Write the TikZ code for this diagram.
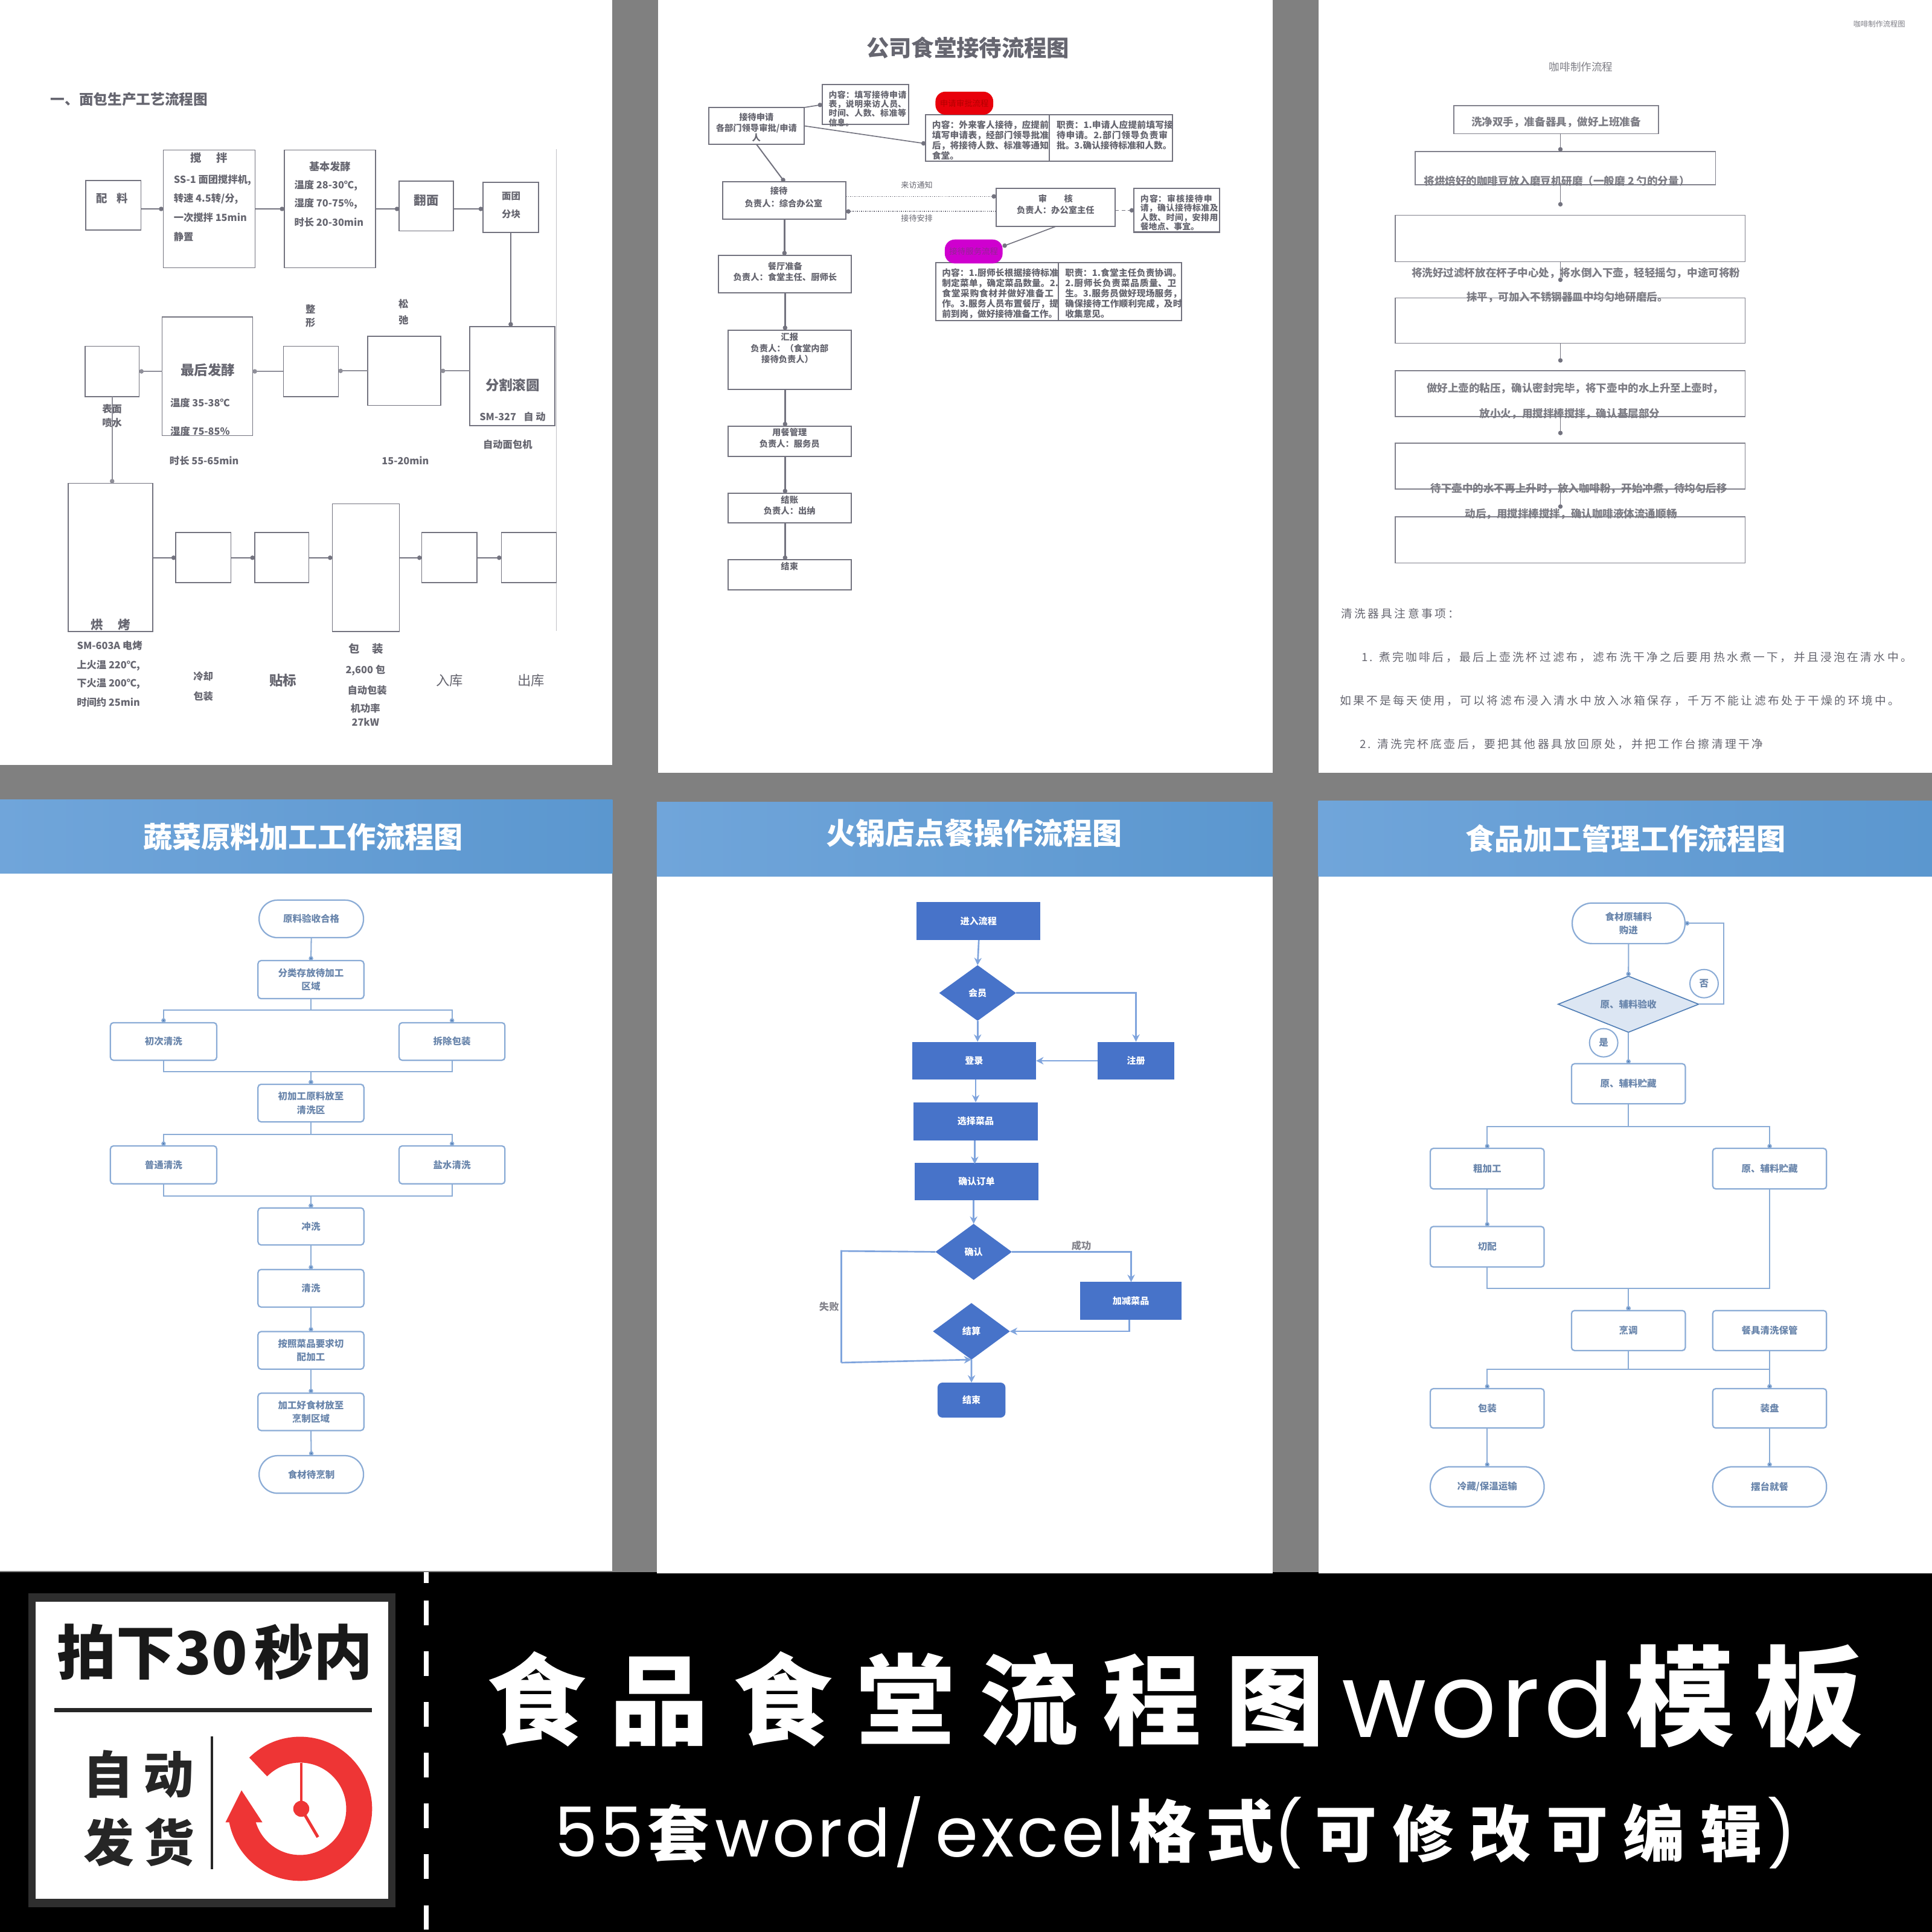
\documentclass[tikz,border=0pt]{standalone}
\usepackage{fontspec}
\setmainfont{Noto Sans CJK SC}
\XeTeXlinebreaklocale "zh"
\XeTeXlinebreakskip=0pt plus 1pt
\newfontfamily\poppins{Poppins}
\newfontfamily\poppinsw[LetterSpace=4]{Poppins}
\newfontfamily\cjktitle[LetterSpace=25]{Noto Sans CJK SC}
\newfontfamily\cjktitleb[LetterSpace=18]{Noto Sans CJK SC}
\newfontfamily\cjksub[LetterSpace=14]{Noto Sans CJK SC}
\newfontfamily\cjknote[LetterSpace=18]{Noto Sans CJK SC}
\usetikzlibrary{arrows.meta,shapes.geometric}
\definecolor{pagegray}{HTML}{808080}
\definecolor{bandL}{HTML}{70A5DA}
\definecolor{bandR}{HTML}{5B97CF}
\definecolor{lineA}{HTML}{73737F}
\definecolor{textA}{HTML}{666670}
\definecolor{lineD}{HTML}{8BACD6}
\definecolor{tipD}{HTML}{4F7DB5}
\definecolor{textD}{HTML}{6A86AC}
\definecolor{fillE}{HTML}{4773C9}
\definecolor{lineE}{HTML}{7FA4DD}
\definecolor{clockred}{HTML}{EE3535}
\definecolor{pillred}{HTML}{E8000B}
\definecolor{pillmag}{HTML}{CF00CF}
\newcommand{\fs}[1]{\fontsize{#1}{#1}\selectfont}
\newcommand{\bx}[7][]{\node[bxbase,#1,minimum width={(#5-#3)*1pt},minimum height={(#6-#4)*1pt}] (#2) at ({(#3+#5)/2},{(#4+#6)/2}) {#7};}
\newcommand{\tx}[5][]{\node[txbase,#1] (#2) at (#3,#4) {#5};}
\tikzset{
 bxbase/.style={inner sep=0pt,outer sep=0pt,rectangle,align=center},
 txbase/.style={inner sep=0pt,outer sep=0pt,align=center},
 boxA/.style={draw=lineA,line width=.8pt,fill=white},
 tA/.style={text=textA,font=\fs{8}\bfseries},
 tAb/.style={text=textA,font=\fs{11}\bfseries},
 conA/.style={draw=lineA,line width=.8pt,-{Circle[length=3.6pt]}},
 conAg/.style={draw=lineA!80,line width=1.1pt,-{Circle[length=3.6pt]}},
 boxB/.style={draw=lineA,line width=1pt,fill=white},
 tB/.style={text=textA,font=\fs{7}\bfseries},
 blockB/.style={text=textA,font=\fontsize{7.2}{8.3}\selectfont\bfseries,align=left,anchor=north west},
 blockS/.style={blockB,font=\fontsize{6.8}{7.5}\selectfont\bfseries},
 boxC/.style={draw=lineA!90,line width=.8pt,fill=white},
 tC/.style={text=textA!85,font=\fs{8.6}\bfseries},
 tN/.style={text=textA,font=\fs{9.2}\cjknote,anchor=west},
 boxD/.style={draw=lineD,line width=1.1pt,fill=white,rounded corners=2.5pt,text=textD,font=\fontsize{7.6}{11}\selectfont\bfseries},
 pillD/.style={boxD,rounded corners=15pt},
 conD/.style={draw=lineD,line width=1pt,-{Circle[length=3.6pt,fill=tipD]}},
 band/.style={left color=bandL,right color=bandR},
 bandT/.style={text=white,font=\fs{23.6}\bfseries},
 boxE/.style={fill=fillE,text=white,font=\fs{7.4}\bfseries},
 diaE/.style={diamond,inner sep=0pt,outer sep=0pt,fill=fillE,text=white,font=\fs{7.4}\bfseries,shape aspect=1.37},
 conE/.style={draw=lineE,line width=1.3pt,-{Stealth[length=6pt,width=6pt]}},
 circF/.style={circle,draw=lineD,line width=1pt,minimum size=23pt,inner sep=0pt,text=textD,font=\fs{7.6}\bfseries,fill=white},
}
\begin{document}
\begin{tikzpicture}[x=1pt,y=-1pt]
\useasboundingbox (0,0) rectangle (1568,1568);
\fill[pagegray] (0,0) rectangle (1568,1276);
\fill[black] (0,1276) rectangle (1568,1568);
% pages
\fill[white] (0,0) rectangle (497,621);
\fill[white] (534,0) rectangle (1033,627);
\fill[white] (1070,0) rectangle (1568,627);
\fill[white] (0,649) rectangle (497,1275);
\fill[white] (533,651) rectangle (1033,1277);
\fill[white] (1070,650) rectangle (1568,1277);

% ---------- Page A
\tx[text=textA,font=\fs{11.6}\bfseries,anchor=west]{atitle}{41}{80.5}{一、面包生产工艺流程图}
\draw[lineA!45,line width=.6pt] (451.5,121) -- (451.5,512);
\bx[boxA]{a1}{69.6}{146.4}{114.5}{186.7}{}
\bx[boxA]{a2}{132.6}{121.8}{207}{217.3}{}
\bx[boxA]{a3}{230.7}{121.8}{304.8}{217.3}{}
\bx[boxA]{a4}{324}{147}{368}{187.5}{}
\bx[boxA]{a5}{392}{148}{437}{188.7}{}
\bx[boxA]{a6}{381.3}{265}{450.2}{345.6}{}
\bx[boxA]{a7}{298.3}{273}{357.7}{329}{}
\bx[boxA]{a8}{230}{281}{274.6}{321.8}{}
\bx[boxA]{a9}{131.6}{257.3}{205}{353.6}{}
\bx[boxA]{a10}{69}{281}{113}{321.8}{}
\bx[boxA]{a11}{55.5}{392.3}{124}{512.5}{}
\bx[boxA]{a12}{142.7}{432.3}{187.4}{473}{}
\bx[boxA]{a13}{206.7}{432.3}{250.7}{473}{}
\bx[boxA]{a14}{269.7}{408.9}{324.2}{512.5}{}
\bx[boxA]{a15}{342.2}{432.3}{387.2}{473}{}
\bx[boxA]{a16}{406.9}{432.3}{451.5}{473}{}
\draw[conA] (a1.east |- a2.west) -- (a2.west);
\draw[conA] (a2.east) -- (a3.west);
\draw[conA] (a3.east) -- (a3.east -| a4.west);
\draw[conA] (a4.east |- a3.east) -- (a3.east -| a5.west);
\draw[conA,line width=1.1pt] (a5.south) -- (a5.south |- a6.north);
\draw[conAg] (a6.west |- a7.east) -- (a7.east);
\draw[conAg] (a7.west) -- (a7.west -| a8.east);
\draw[conAg] (a8.west) -- (a8.west -| a9.east);
\draw[conAg] (a9.west |- a10.east) -- (a10.east);
\draw[conAg] (a10.south) -- (a10.south |- a11.north);
\draw[conA] (a11.east |- a12.west) -- (a12.west);
\draw[conA] (a12.east) -- (a13.west);
\draw[conA] (a13.east) -- (a13.east -| a14.west);
\draw[conA] (a14.east |- a15.west) -- (a15.west);
\draw[conA] (a15.east) -- (a16.west);
\tx[tA,font=\fs{9}\bfseries]{at1}{91}{161}{配\hspace{8pt}料}
\tx[tA,font=\fs{9}\bfseries]{at2}{169.6}{128}{搅\hspace{12pt}拌}
\tx[tA,anchor=west]{at3}{141}{146.4}{SS-1 面团搅拌机,}
\tx[tA,anchor=west]{at4}{141}{161.3}{转速 4.5转/分,}
\tx[tA,anchor=west]{at5}{141}{176.6}{一次搅拌 15min}
\tx[tA,anchor=west]{at6}{141}{192}{静置}
\tx[tA,font=\fs{8.4}\bfseries]{at7}{267.7}{135}{基本发酵}
\tx[tA,anchor=west]{at8}{238.9}{150.4}{温度 28-30℃,}
\tx[tA,anchor=west]{at9}{238.9}{165.3}{湿度 70-75\%,}
\tx[tA,anchor=west]{at10}{238.9}{180.6}{时长 20-30min}
\tx[tA,font=\fs{10}\bfseries]{at11}{346}{162.5}{翻面}
\tx[tA,font=\fs{7.6}\bfseries]{at12}{414.8}{159}{面团}
\tx[tA,font=\fs{7.6}\bfseries]{at13}{414.8}{174}{分块}
\tx[tAb]{at14}{416}{312.5}{分割滚圆}
\tx[tA]{at15}{416}{338}{SM-327\hspace{6pt}自 动}
\tx[tA]{at16}{412}{361}{自动面包机}
\tx[tA]{at17}{327.5}{246.8}{松}
\tx[tA]{at18}{327.5}{260}{弛}
\tx[tA]{at19}{329}{374}{15-20min}
\tx[tA]{at20}{252}{251}{整}
\tx[tA]{at21}{252}{262}{形}
\tx[tAb]{at22}{168.7}{300.4}{最后发酵}
\tx[tA]{at23}{162.4}{327}{温度 35-38℃}
\tx[tA]{at24}{162.4}{350}{湿度 75-85\%}
\tx[tA]{at25}{165.7}{374}{时长 55-65min}
\tx[tA]{at26}{91}{332}{表面}
\tx[tA]{at27}{91}{343}{喷水}
\tx[tA,font=\fs{10}\bfseries]{at28}{89.6}{506.9}{烘\hspace{12pt}烤}
\tx[tA]{at29}{89}{524}{SM-603A 电烤}
\tx[tA]{at30}{88}{540}{上火温 220℃,}
\tx[tA]{at31}{88}{555}{下火温 200℃,}
\tx[tA]{at32}{88}{570}{时间约 25min}
\tx[tA]{at33}{165}{549}{冷却}
\tx[tA]{at34}{165}{565}{包装}
\tx[tAb]{at35}{229.7}{552.4}{贴标}
\tx[tA,font=\fs{9}\bfseries]{at36}{297}{526.6}{包\hspace{10pt}装}
\tx[tA]{at37}{296.6}{544}{2,600 包}
\tx[tA]{at38}{298}{560}{自动包装}
\tx[tA]{at39}{296.6}{575}{机功率}
\tx[tA]{at40}{296.6}{586}{27kW}
\tx[tAb,font=\fs{11}]{at41}{365}{552}{入库}
\tx[tAb,font=\fs{11}]{at42}{431}{552}{出库}

% ---------- Page B
\tx[text=textA,font=\fs{18.3}\bfseries]{btitle}{785.5}{39}{公司食堂接待流程图}
\bx[boxB]{b1}{575.1}{87.2}{652.9}{117.2}{}
\bx[boxB]{b1n}{667.3}{68.8}{737.6}{101}{}
\bx[boxB]{b2l}{751.3}{93.1}{851.4}{130.6}{}
\bx[boxB]{b2r}{851.4}{93.1}{951.5}{130.6}{}
\bx[boxB]{b3}{586.6}{147.5}{686.7}{177.8}{}
\bx[boxB]{b4}{808.4}{153}{905.2}{183.8}{}
\bx[boxB]{b4n}{920.3}{153}{989.9}{188.4}{}
\bx[boxB]{b5l}{759.5}{213}{859}{260.3}{}
\bx[boxB]{b5r}{859}{213}{959}{260.3}{}
\bx[boxB]{b6}{583.3}{207.2}{691}{237.8}{}
\bx[boxB]{b7}{590.9}{267.8}{691}{316}{}
\bx[boxB]{b8}{590.9}{346}{691}{370.3}{}
\bx[boxB]{b9}{590.9}{400.3}{691}{424.4}{}
\bx[boxB]{b10}{590.9}{454.4}{691}{478.8}{}
\bx[fill=pillred,rounded corners=8pt,text=red!70!black,font=\fs{6.6}]{pillr}{759.2}{74.4}{806.1}{93.1}{申请审批流程}
\bx[fill=pillmag,rounded corners=8pt,text=violet!85,font=\fs{6.6}]{pillm}{766.8}{194.4}{813.7}{213.8}{接待服务流程}
\draw[conA] (b1.north east) -- (b1n.west);
\draw[conA] (b1.east) -- (b2l.west |- 751.3,116.6);
\draw[conA,line width=1pt] (b1.south) -- (b3.north);
\draw[conA,line width=.7pt,densely dotted] (b3.east |- 0,159.4) -- (b4.west |- 0,159.4);
\draw[conA,line width=.7pt,densely dotted] (b4.west |- 0,171.6) -- (b3.east |- 0,171.6);
\draw[conA,densely dashed] (b4.east |- b4n.west) -- (b4n.west);
\draw[conA] (b4.south) -- (pillm.east |- 0,200);
\draw[conA,line width=1.2pt] (b3.south) -- (b3.south |- b6.north);
\draw[conA,line width=1.2pt] (b6.south) -- (b6.south |- b7.north);
\draw[conA,line width=1.2pt] (b6.south |- b7.south) -- (b6.south |- b8.north);
\draw[conA,line width=1.2pt] (b6.south |- b8.south) -- (b6.south |- b9.north);
\draw[conA,line width=1.2pt] (b6.south |- b9.south) -- (b6.south |- b10.north);
\tx[tB]{bt1}{613.9}{95.3}{接待申请}
\tx[tB]{bt2}{613.9}{104.4}{各部门领导审批/申请}
\tx[tB]{bt3}{613.9}{111.6}{人}
\tx[tB]{bt4}{632.2}{155}{接待}
\tx[tB]{bt5}{636}{165}{负责人：综合办公室}
\tx[tB]{bt6}{856.7}{161.3}{审\hspace{14pt}核}
\tx[tB]{bt7}{856.7}{170.6}{负责人：办公室主任}
\tx[tB,font=\fs{6.4}]{bt8}{744.1}{150.3}{来访通知}
\tx[tB,font=\fs{6.4}]{bt9}{744.1}{177.2}{接待安排}
\tx[tB]{bt10}{637.2}{216.3}{餐厅准备}
\tx[tB]{bt11}{637.2}{224.7}{负责人：食堂主任、厨师长}
\tx[tB]{bt12}{640.8}{273.4}{汇报}
\tx[tB]{bt13}{640.8}{282.8}{负责人：（食堂内部}
\tx[tB]{bt14}{639}{291.6}{接待负责人）}
\tx[tB]{bt15}{640.8}{351}{用餐管理}
\tx[tB]{bt16}{640.8}{360}{负责人：服务员}
\tx[tB]{bt17}{640.8}{405.6}{结账}
\tx[tB]{bt18}{640.8}{414.4}{负责人：出纳}
\tx[tB]{bt19}{640.8}{459.7}{结束}
\node[blockS,text width=67pt] (bn1) at (669,70) {内容：填写接待申请表，说明来访人员、时间、人数、标准等信息。};
\node[blockB,text width=96pt] (bn2) at (753,94.5) {内容：外来客人接待，应提前填写申请表，经部门领导批准后，将接待人数、标准等通知食堂。};
\node[blockB,text width=96pt] (bn3) at (854,94.5) {职责：1.申请人应提前填写接待申请。2.部门领导负责审批。3.确认接待标准和人数。};
\node[blockS,text width=67pt] (bn4) at (922,154.5) {内容：审核接待申请，确认接待标准及人数、时间，安排用餐地点、事宜。};
\node[blockB,text width=96pt] (bn5) at (761,214.5) {内容：1.厨师长根据接待标准制定菜单，确定菜品数量。2.食堂采购食材并做好准备工作。3.服务人员布置餐厅，提前到岗，做好接待准备工作。};
\node[blockB,text width=96pt] (bn6) at (861,214.5) {职责：1.食堂主任负责协调。2.厨师长负责菜品质量、卫生。3.服务员做好现场服务，确保接待工作顺利完成，及时收集意见。};

% ---------- Page C
\tx[tC,font=\fs{6}]{ct0}{1525.2}{19.4}{咖啡制作流程图}
\tx[tC,font=\fs{8.6}]{ct1}{1283.1}{54.4}{咖啡制作流程}
\bx[boxC]{c1}{1179.8}{85.9}{1346}{108.5}{}
\bx[boxC]{c2}{1148.6}{123}{1392.3}{150}{}
\bx[boxC]{c3}{1132.5}{174.6}{1416.4}{212.5}{}
\bx[boxC]{c4}{1132.5}{241.9}{1416.4}{278.6}{}
\bx[boxC]{c5}{1132.5}{300.8}{1416.4}{338}{}
\bx[boxC]{c6}{1132.5}{359.7}{1416.4}{396.8}{}
\bx[boxC]{c7}{1132.5}{419.4}{1416.4}{456.9}{}
\coordinate (cx) at (1266.4,0);
\draw[conA] (cx |- c1.south) -- (cx |- c2.north);
\draw[conA,shorten >=7pt] (cx |- c2.south) -- (cx |- c3.north);
\draw[conA,shorten >=13pt] (cx |- c3.south) -- (cx |- c4.north);
\draw[conA,shorten >=6.5pt] (cx |- c4.south) -- (cx |- c5.north);
\draw[conA,shorten >=6.5pt] (cx |- c5.south) -- (cx |- c6.north);
\draw[conA,shorten >=6.5pt] (cx |- c6.south) -- (cx |- c7.north);
\tx[tC]{cp1}{1263}{99}{洗净双手，准备器具，做好上班准备}
\tx[tC]{cp2}{1263.5}{146.8}{将烘焙好的咖啡豆放入磨豆机研磨（一般磨 2 勺的分量）}
\tx[tC]{cp3}{1279}{221.4}{将洗好过滤杯放在杯子中心处，将水倒入下壶，轻轻摇匀，中途可将粉}
\tx[tC]{cp4}{1272}{241}{抹平，可加入不锈钢器皿中均匀地研磨后。}
\tx[tC]{cp5}{1278.3}{315.3}{做好上壶的粘压，确认密封完毕，将下壶中的水上升至上壶时，}
\tx[tC]{cp6}{1274}{336}{放小火，用搅拌棒搅拌，确认基层部分}
\tx[tC]{cp7}{1281.5}{396.8}{待下壶中的水不再上升时，放入咖啡粉，开始冲煮，待均匀后移}
\tx[tC]{cp8}{1275}{417}{动后，用搅拌棒搅拌，确认咖啡液体流通顺畅}
\tx[tN]{cn1}{1088.4}{498}{清洗器具注意事项：}
\tx[tN]{cn2}{1105}{533.5}{1. 煮完咖啡后，最后上壶洗杯过滤布，滤布洗干净之后要用热水煮一下，并且浸泡在清水中。}
\tx[tN]{cn3}{1087.4}{568.5}{如果不是每天使用，可以将滤布浸入清水中放入冰箱保存，千万不能让滤布处于干燥的环境中。}
\tx[tN]{cn4}{1103.5}{604}{2. 清洗完杯底壶后，要把其他器具放回原处，并把工作台擦清理干净}

% ---------- Page D
\bx[band]{dband}{0}{649}{497}{709}{}
\tx[bandT]{dtitle}{246}{679.3}{蔬菜原料加工工作流程图}
\bx[pillD]{d1}{210.3}{730.5}{295}{761}{原料验收合格}
\bx[boxD]{d2}{209.4}{779.6}{295.3}{810.5}{分类存放待加工\\区域}
\bx[boxD]{d3l}{89.6}{830}{175.9}{860.5}{初次清洗}
\bx[boxD]{d3r}{323.9}{830}{409.8}{860.5}{拆除包装}
\bx[boxD]{d4}{209.4}{880}{295.3}{910.5}{初加工原料放至\\清洗区}
\bx[boxD]{d5l}{89.6}{930}{175.9}{960.8}{普通清洗}
\bx[boxD]{d5r}{323.9}{930}{409.8}{960.8}{盐水清洗}
\bx[boxD]{d6}{209.4}{980.3}{295.3}{1010.4}{冲洗}
\bx[boxD]{d7}{209.4}{1030.3}{295.3}{1060.8}{清洗}
\bx[boxD]{d8}{209.4}{1080.7}{295.3}{1111.2}{按照菜品要求切\\配加工}
\bx[boxD]{d9}{209.4}{1130.7}{295.3}{1161}{加工好食材放至\\烹制区域}
\bx[pillD]{d10}{210.3}{1181.4}{295}{1211.9}{食材待烹制}
\draw[conD] (d1.south) -- (d2.north);
\draw[conD] (d2.south) -- ++(0,9.4) -| (d3l.north);
\draw[conD] (d2.south) -- ++(0,9.4) -| (d3r.north);
\draw[conD] (d3l.south) -- ++(0,9.3) -| (d4.north);
\draw[conD] (d3r.south) -- ++(0,9.3) -| (d4.north);
\draw[conD] (d4.south) -- ++(0,10.1) -| (d5l.north);
\draw[conD] (d4.south) -- ++(0,10.1) -| (d5r.north);
\draw[conD] (d5l.south) -- ++(0,9.8) -| (d6.north);
\draw[conD] (d5r.south) -- ++(0,9.8) -| (d6.north);
\draw[conD] (d6.south) -- (d7.north);
\draw[conD] (d7.south) -- (d8.north);
\draw[conD] (d8.south) -- (d9.north);
\draw[conD] (d9.south) -- (d10.north);

% ---------- Page E
\bx[band]{eband}{533}{651}{1033}{711}{}
\tx[bandT,font=\fs{24}\bfseries]{etitle}{790.7}{676}{火锅店点餐操作流程图}
\bx[boxE]{e1}{743.8}{732}{844.5}{763}{进入流程}
\node[diaE,minimum width=62.3pt,minimum height=45.1pt] (ed1) at (793.4,805.9) {会员};
\bx[boxE]{e2}{740.2}{845.5}{840.9}{876.3}{登录}
\bx[boxE]{e3}{890.8}{845.5}{953.1}{876.3}{注册}
\bx[boxE]{e4}{741.5}{894.6}{842.2}{925.5}{选择菜品}
\bx[boxE]{e5}{742.2}{943.8}{842.9}{974.2}{确认订单}
\node[diaE,minimum width=62pt,minimum height=45.5pt] (ed2) at (790.2,1016) {确认};
\bx[boxE]{e6}{876.7}{1040.5}{959}{1071.3}{加减菜品}
\node[diaE,minimum width=62.4pt,minimum height=45.9pt] (ed3) at (788.4,1080.5) {结算};
\bx[boxE,rounded corners=4pt]{e7}{760.9}{1122.1}{816}{1150.5}{结束}
\coordinate (eleft) at (682.8,1015.3);
\coordinate (elow) at (682.8,1105.9);
\draw[conE] (e1.south -| ed1.north) ++(1,0) -- (ed1.north);
\draw[conE] (ed1.south) -- (e2.north -| ed1.south);
\draw[conE] (ed1.east) -| (e3.north);
\draw[conE] (e3.west) -- (e2.east);
\draw[conE] (e2.south -| e4.north) -- (e4.north);
\draw[conE] (e4.south -| e5.north) ++(-1.5,0) -- ++(0,19.2);
\draw[conE] (e5.south -| ed2.north) -- (ed2.north);
\draw[conE] (ed2.east) -| (918,1040.5);
\draw[draw=lineE,line width=1.3pt] (ed2.west) -- (eleft) -- (elow);
\draw[conE] (elow) -- (ed3.south);
\draw[conE] (916.4,1071.3) |- (ed3.east);
\draw[conE] (ed3.south) -- (e7.north);
\tx[text=textA!80,font=\fs{8}\bfseries]{el1}{877.7}{1011.2}{成功}
\tx[text=textA!80,font=\fs{8}\bfseries]{el2}{672.9}{1060.4}{失败}

% ---------- Page F
\bx[band]{fband}{1070}{650}{1568}{711}{}
\tx[bandT]{ftitle}{1319.2}{680.5}{食品加工管理工作流程图}
\bx[pillD,rounded corners=16pt]{f1}{1276}{732.9}{1367.5}{765.8}{食材原辅料\\购进}
\node[diamond,inner sep=0pt,outer sep=0pt,draw=tipD,line width=.8pt,fill=lineD!30,shape aspect=2.5,minimum width=114pt,minimum height=45.5pt,text=textD,font=\fs{7.6}\bfseries] (fd) at (1321.6,815) {原、辅料验收};
\bx[boxD]{f2}{1275.4}{863.3}{1367.8}{895.8}{原、辅料贮藏}
\bx[boxD]{f3l}{1160.8}{932}{1253.2}{964.9}{粗加工}
\bx[boxD]{f3r}{1390}{932}{1482.4}{964.9}{原、辅料贮藏}
\bx[boxD]{f4l}{1160.8}{995.4}{1253.2}{1028.3}{切配}
\bx[boxD]{f5}{1275.4}{1063.6}{1367.8}{1096.1}{烹调}
\bx[boxD]{f6}{1390}{1063.6}{1482.4}{1096.1}{餐具清洗保管}
\bx[boxD]{f7l}{1160.8}{1127}{1253.2}{1159}{包装}
\bx[boxD]{f7r}{1390}{1127}{1482.4}{1159}{装盘}
\bx[pillD,rounded corners=16pt]{f8l}{1160.8}{1190.4}{1253.2}{1222.9}{冷藏/保温运输}
\bx[pillD,rounded corners=16pt]{f8r}{1390}{1190.4}{1482.4}{1222.9}{摆台就餐}
\node[circF] (fno) at (1383,798.3) {否};
\node[circF] (fyes) at (1301.5,846.3) {是};
\coordinate (floop) at (1398.7,815);
\draw[conD] (f1.south) -- (fd.north);
\draw[conD] (fd.east) -- (floop) |- (f1.east);
\draw[conD] (fd.south) -- (f2.north -| fd.south);
\draw[conD] (f2.south) -- ++(0,18.3) -| (f3l.north);
\draw[conD] (f2.south) -- ++(0,18.3) -| (f3r.north);
\draw[conD] (f3l.south) -- (f4l.north);
\draw[conD] (f4l.south) -- ++(0,17.4) -| (f5.north);
\draw[conD] (f3r.south) -- ++(0,80.8) -| (f5.north);
\draw[conD] (f5.south) -- ++(0,15.4) -| (f7l.north);
\draw[conD] (f5.south) -- ++(0,15.4) -| (f7r.north);
\draw[conD] (f6.south) -- (f7r.north);
\draw[conD] (f7l.south) -- (f8l.north);
\draw[conD] (f7r.south) -- (f8r.north);

% ---------- Bottom band
\draw[white,line width=4pt] (346,1276) -- (346,1285);
\draw[white,line width=4pt,dash pattern=on 20pt off 21.2pt] (346,1299) -- (346,1568);
\bx[fill=black!82]{cardo}{23}{1293}{321}{1548}{}
\bx[fill=white]{card}{29}{1300}{315}{1541}{}
\tx[text=black!90,font=\fs{48}\bfseries]{c30}{174.5}{1341}{拍下30\hspace{6pt}秒内}
\bx[fill=black!85]{crule}{44}{1386.2}{302}{1389.8}{}
\tx[text=black!85,font=\fs{41}\bfseries]{cauto}{112.5}{1440}{自\hspace{8pt}动}
\tx[text=black!85,font=\fs{41}\bfseries]{cship}{113}{1495}{发\hspace{8pt}货}
\bx[fill=black!85]{cvr}{171.2}{1409}{172.8}{1517}{}
\draw[clockred,line width=21pt] (243.5,1468) ++(225:48) arc (225:530:48);
\fill[clockred] (196,1453) -- (213,1479) -- (183,1479) -- cycle;
\fill[clockred] (244.5,1468) circle (6.5);
\draw[clockred,line width=2pt] (244.5,1468) -- (244.5,1431);
\draw[clockred,line width=2.4pt] (244.5,1468) -- (258,1491);
\node[inner sep=0pt,outer sep=0pt,anchor=base west,text=white] (mtitle) at (395,1410) {{\fs{80}\bfseries\cjktitle 食品食堂流程图}\hspace{14pt}{\fs{84}\poppinsw word}\hspace{10pt}{\fs{88}\bfseries\cjktitleb 模板}};
\node[inner sep=0pt,outer sep=0pt,anchor=base west,text=white] (stitle) at (450,1507) {{\fs{56}\poppinsw 55}\hspace{3pt}{\fs{50}\bfseries\cjksub 套}\hspace{5pt}{\fs{54}\poppinsw word}\hspace{3pt}{\fs{52}\poppins /}\hspace{9pt}{\fs{56}\poppinsw excel}\hspace{4pt}{\fs{55}\bfseries\cjksub 格式}{\fs{52}\poppins (}\hspace{10pt}{\fs{50}\bfseries\cjktitle 可修改可编辑}\hspace{4pt}{\fs{52}\poppins )}};
\end{tikzpicture}
\end{document}
